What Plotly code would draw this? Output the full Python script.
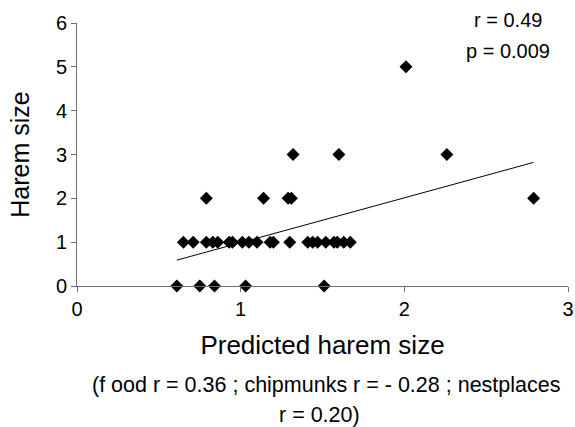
import plotly.graph_objects as go

# Data
pred_x = [0.61, 0.75, 0.84, 1.03, 1.51,
          0.65, 0.71, 0.79, 0.83, 0.86, 0.93, 0.95, 1.01, 1.05, 1.10, 1.18, 1.20, 1.30,
          1.41, 1.44, 1.47, 1.52, 1.57, 1.59, 1.63, 1.67,
          0.79, 1.14, 1.29, 1.31,
          1.32, 1.60, 2.26,
          2.01,
          2.79]
harem_y = [0, 0, 0, 0, 0,
           1, 1, 1, 1, 1, 1, 1, 1, 1, 1, 1, 1, 1,
           1, 1, 1, 1, 1, 1, 1, 1,
           2, 2, 2, 2,
           3, 3, 3,
           5,
           2]
trend_x = [0.61, 2.79]
trend_y = [0.59, 2.82]

x_ticks = [0, 1, 2, 3]
y_ticks = [0, 1, 2, 3, 4, 5, 6]

FONT = "Liberation Sans, Arial, sans-serif"
AXC = "#6e6e6e"

fig = go.Figure()
fig.add_trace(go.Scatter(x=trend_x, y=trend_y, mode="lines",
                         line=dict(color="black", width=1), hoverinfo="skip",
                         showlegend=False))
fig.add_trace(go.Scatter(x=pred_x, y=harem_y, mode="markers",
                         marker=dict(symbol="diamond", size=10, color="black",
                                     line=dict(width=0)),
                         showlegend=False, cliponaxis=False))

fig.update_layout(
    width=575, height=427,
    margin=dict(l=77, r=7, t=23, b=141),
    paper_bgcolor="white", plot_bgcolor="white",
    font=dict(family=FONT, color="black", size=20),
    xaxis=dict(range=[0, 3], tickvals=x_ticks, showgrid=False, zeroline=False,
               showline=True, linecolor=AXC, linewidth=1,
               ticks="outside", ticklen=5, tickcolor=AXC,
               tickfont=dict(size=20), automargin=False,
               ticklabeloverflow="allow",
               title=dict(text="Predicted harem size", font=dict(size=26), standoff=16)),
    yaxis=dict(range=[0, 6], tickvals=y_ticks, showgrid=False, zeroline=False,
               showline=True, linecolor=AXC, linewidth=1,
               ticks="outside", ticklen=5, tickcolor=AXC,
               tickfont=dict(size=20), automargin=False,
               ticklabeloverflow="allow",
               title=dict(text="Harem size", font=dict(size=25), standoff=19)),
    annotations=[
        dict(text="r = 0.49", x=0.878, y=1.011, xref="paper", yref="paper",
             xanchor="center", yanchor="middle",
             showarrow=False, font=dict(size=20)),
        dict(text="p = 0.009", x=0.878, y=0.893, xref="paper", yref="paper",
             xanchor="center", yanchor="middle",
             showarrow=False, font=dict(size=20)),
        dict(text="(f ood r = 0.36 ; chipmunks r = - 0.28 ; nestplaces",
             x=0.507, y=-0.378, xref="paper", yref="paper",
             xanchor="center", yanchor="middle",
             showarrow=False, font=dict(size=21.5)),
        dict(text="r = 0.20)", x=0.494, y=-0.489, xref="paper", yref="paper",
             xanchor="center", yanchor="middle",
             showarrow=False, font=dict(size=21.5)),
    ],
)

fig.write_html("out.html", config={"displayModeBar": False},
               post_script="document.body.style.margin='0';")
